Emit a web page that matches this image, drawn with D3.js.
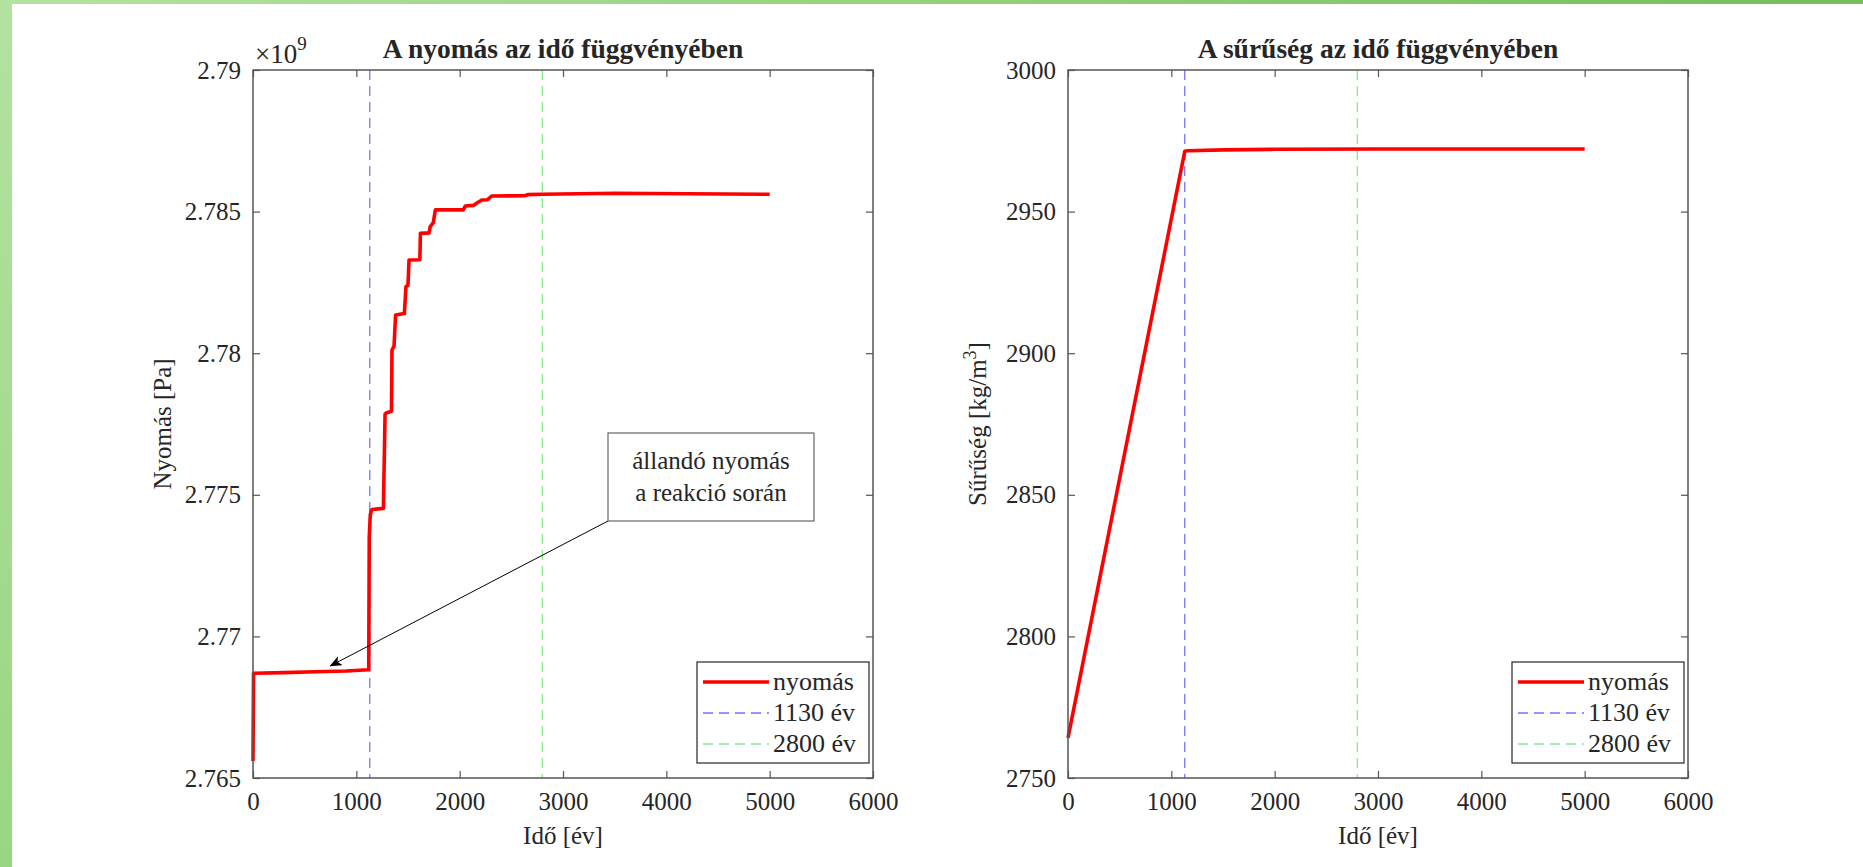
<!DOCTYPE html>
<html>
<head>
<meta charset="utf-8">
<script src="https://cdn.jsdelivr.net/npm/d3@7"></script>
<style>
  body { margin: 0; background: #fff; }
  text { font-family: "Liberation Serif", "Times New Roman", serif; fill: #262626; }
</style>
</head>
<body>
<svg id="chart" width="1863" height="867"></svg>
<script>
// pressure values in units of 1e9 Pa, [time (év), pressure]
const pressureData = [
    [0, 2.76560], [5, 2.76870], [300, 2.76872], [600, 2.76875], [900, 2.76878],
    [1120, 2.76882], [1125, 2.77350], [1135, 2.77430], [1150, 2.77448], [1262, 2.77452],
    [1278, 2.77785], [1294, 2.77790], [1340, 2.77795], [1345, 2.78011], [1365, 2.78025],
    [1380, 2.78135], [1465, 2.78140], [1480, 2.78235], [1500, 2.78240], [1510, 2.78329],
    [1615, 2.78330], [1620, 2.78423], [1705, 2.78425], [1715, 2.78447], [1745, 2.78461],
    [1765, 2.78506], [2035, 2.78506], [2055, 2.78520], [2135, 2.78522], [2170, 2.78531],
    [2215, 2.78541], [2270, 2.78542], [2310, 2.78555], [2630, 2.78556], [2660, 2.78560],
    [2800, 2.78561], [3500, 2.78565], [4200, 2.78563], [5000, 2.78561]
];
// density [time, kg/m3]
const densityData = [
    [0, 2764.2], [1130, 2971.3], [1160, 2971.5], [1500, 2971.8], [2000, 2972.0],
    [3000, 2972.1], [5000, 2972.1]
];
const markerYears = [1130, 2800];
const legendLabels = ["nyomás", "1130 év", "2800 év"];
const timeTicks = [0, 1000, 2000, 3000, 4000, 5000, 6000];
const pressureTicks = [2.765, 2.77, 2.775, 2.78, 2.785, 2.79];
const pressureTickLabels = ["2.765", "2.77", "2.775", "2.78", "2.785", "2.79"];
const densityTicks = [2750, 2800, 2850, 2900, 2950, 3000];
const annotationLines = ["állandó nyomás", "a reakció során"];

const svg = d3.select("#chart");
const fontSize = 25;

// green frame at top and left
const defs = svg.append("defs");
const gTop = defs.append("linearGradient").attr("id", "gTop");
gTop.append("stop").attr("offset", "0").attr("stop-color", "#b4e3a1");
gTop.append("stop").attr("offset", "1").attr("stop-color", "#76be58");
const gLeft = defs.append("linearGradient").attr("id", "gLeft")
    .attr("x1", 0).attr("y1", 0).attr("x2", 0).attr("y2", 1);
gLeft.append("stop").attr("offset", "0").attr("stop-color", "#b2e2a0");
gLeft.append("stop").attr("offset", "1").attr("stop-color", "#9ad681");
defs.append("marker").attr("id", "arrowHead")
    .attr("viewBox", "0 0 12 10").attr("refX", 11).attr("refY", 5)
    .attr("markerWidth", 12).attr("markerHeight", 10)
    .attr("markerUnits", "userSpaceOnUse").attr("orient", "auto")
  .append("path").attr("d", "M0,0 L12,5 L0,10 L3,5 Z").attr("fill", "#000");

svg.append("rect").attr("x", 0).attr("y", 0).attr("width", 1863).attr("height", 4).attr("fill", "url(#gTop)");
svg.append("rect").attr("x", 0).attr("y", 0).attr("width", 12).attr("height", 867).attr("fill", "url(#gLeft)");

function drawPanel(p) {
    const xScale = d3.scaleLinear().domain([0, 6000]).range([p.left, p.right]);
    const yScale = d3.scaleLinear().domain(p.yDomain).range([p.bottom, p.top]);
    const g = svg.append("g");

    // dashed marker lines
    const markerColors = ["#7373ff", "#86ee86"];
    markerYears.forEach(function(yr, i) {
        g.append("line")
            .attr("x1", xScale(yr)).attr("x2", xScale(yr))
            .attr("y1", p.top).attr("y2", p.bottom)
            .attr("stroke", markerColors[i]).attr("stroke-width", 1.3)
            .attr("stroke-dasharray", "10,6");
    });

    // data line
    const line = d3.line()
        .x(function(d) { return xScale(d[0]); })
        .y(function(d) { return yScale(d[1]); });
    g.append("path").datum(p.data)
        .attr("fill", "none").attr("stroke", "#ff0000")
        .attr("stroke-width", 3.6).attr("stroke-linejoin", "round")
        .attr("d", line);

    // axes: bottom/left with labels, top/right ticks only
    const tickLen = 7;
    const xb = g.append("g").attr("transform", `translate(0,${p.bottom})`)
        .call(d3.axisBottom(xScale).tickValues(timeTicks).tickSizeInner(-tickLen).tickSizeOuter(0)
            .tickPadding(14).tickFormat(d3.format("d")));
    const xt = g.append("g").attr("transform", `translate(0,${p.top})`)
        .call(d3.axisTop(xScale).tickValues(timeTicks).tickSizeInner(-tickLen).tickSizeOuter(0).tickFormat(""));
    const yl = g.append("g").attr("transform", `translate(${p.left},0)`)
        .call(d3.axisLeft(yScale).tickValues(p.ticks).tickSizeInner(-tickLen).tickSizeOuter(0).tickPadding(12)
            .tickFormat(function(d, i) { return p.tickLabels[i]; }));
    const yr = g.append("g").attr("transform", `translate(${p.right},0)`)
        .call(d3.axisRight(yScale).tickValues(p.ticks).tickSizeInner(-tickLen).tickSizeOuter(0).tickFormat(""));
    [xb, xt, yl, yr].forEach(function(a) {
        a.select(".domain").remove();
        a.selectAll("line").attr("stroke", "#555").attr("stroke-width", 1.2);
        a.selectAll("text").attr("font-family", null).attr("font-size", fontSize).attr("fill", "#262626");
    });
    g.append("rect")
        .attr("x", p.left).attr("y", p.top)
        .attr("width", p.right - p.left).attr("height", p.bottom - p.top)
        .attr("fill", "none").attr("stroke", "#555").attr("stroke-width", 1.5);

    // title
    g.append("text")
        .attr("x", (p.left + p.right) / 2).attr("y", p.top - 12)
        .attr("text-anchor", "middle").attr("font-weight", "bold")
        .attr("font-size", 27.5).attr("fill", "#000")
        .text(p.title);

    // x label
    g.append("text")
        .attr("x", (p.left + p.right) / 2).attr("y", 844)
        .attr("text-anchor", "middle").attr("font-size", fontSize)
        .text("Idő [év]");

    // y label
    const yLab = g.append("text")
        .attr("text-anchor", "middle").attr("font-size", fontSize)
        .attr("transform", `translate(${p.left - 82},${(p.top + p.bottom) / 2})rotate(-90)`);
    yLab.append("tspan").text(p.yLabel);
    if (p.yLabelSup) {
        yLab.append("tspan").attr("font-size", 18).attr("dy", -10).text(p.yLabelSup);
        yLab.append("tspan").attr("dy", 10).text(p.yLabelEnd);
    }

    // legend
    const lw = 172, lh = 101;
    const lx = p.right - 4 - lw, ly = p.bottom - 15 - lh;
    const leg = g.append("g").attr("transform", `translate(${lx},${ly})`);
    leg.append("rect").attr("width", lw).attr("height", lh)
        .attr("fill", "#fff").attr("stroke", "#262626").attr("stroke-width", 1.2);
    const legStyles = [
        { color: "#ff0000", width: 3.6, dash: null },
        { color: "#7373ff", width: 1.3, dash: "10,6" },
        { color: "#86ee86", width: 1.3, dash: "10,6" }
    ];
    legendLabels.forEach(function(lab, i) {
        const cy = 20 + i * 31;
        leg.append("line").attr("x1", 6).attr("x2", 72).attr("y1", cy).attr("y2", cy)
            .attr("stroke", legStyles[i].color).attr("stroke-width", legStyles[i].width)
            .attr("stroke-dasharray", legStyles[i].dash);
        leg.append("text").attr("x", 76).attr("y", cy + 8)
            .attr("font-size", fontSize + 1).attr("fill", "#000").text(lab);
    });

    return { x: xScale, y: yScale, g: g };
}

const left = drawPanel({
    left: 253, right: 873, top: 70, bottom: 778,
    yDomain: [2.765, 2.79], ticks: pressureTicks, tickLabels: pressureTickLabels,
    data: pressureData, title: "A nyomás az idő függvényében",
    yLabel: "Nyomás [Pa]"
});

// exponent label
const expo = svg.append("text").attr("x", 255).attr("y", 63).attr("font-size", 27);
expo.append("tspan").text("×10");
expo.append("tspan").attr("font-size", 19).attr("dy", -13).text("9");

drawPanel({
    left: 1068, right: 1688, top: 70, bottom: 778,
    yDomain: [2750, 3000], ticks: densityTicks, tickLabels: densityTicks.map(String),
    data: densityData, title: "A sűrűség az idő függvényében",
    yLabel: "Sűrűség [kg/m", yLabelSup: "3", yLabelEnd: "]"
});

// annotation: text box with arrow pointing at the constant-pressure plateau
const boxX = 608, boxY = 433, boxW = 206, boxH = 88;
svg.append("line")
    .attr("x1", boxX).attr("y1", boxY + boxH)
    .attr("x2", left.x(750)).attr("y2", left.y(2.76875) - 6)
    .attr("stroke", "#000").attr("stroke-width", 1)
    .attr("marker-end", "url(#arrowHead)");
svg.append("rect").attr("x", boxX).attr("y", boxY).attr("width", boxW).attr("height", boxH)
    .attr("fill", "#fff").attr("stroke", "#666").attr("stroke-width", 1.2);
annotationLines.forEach(function(t, i) {
    svg.append("text").attr("x", boxX + boxW / 2).attr("y", boxY + 36 + i * 32)
        .attr("text-anchor", "middle").attr("font-size", fontSize).attr("fill", "#000").text(t);
});
</script>
</body>
</html>
